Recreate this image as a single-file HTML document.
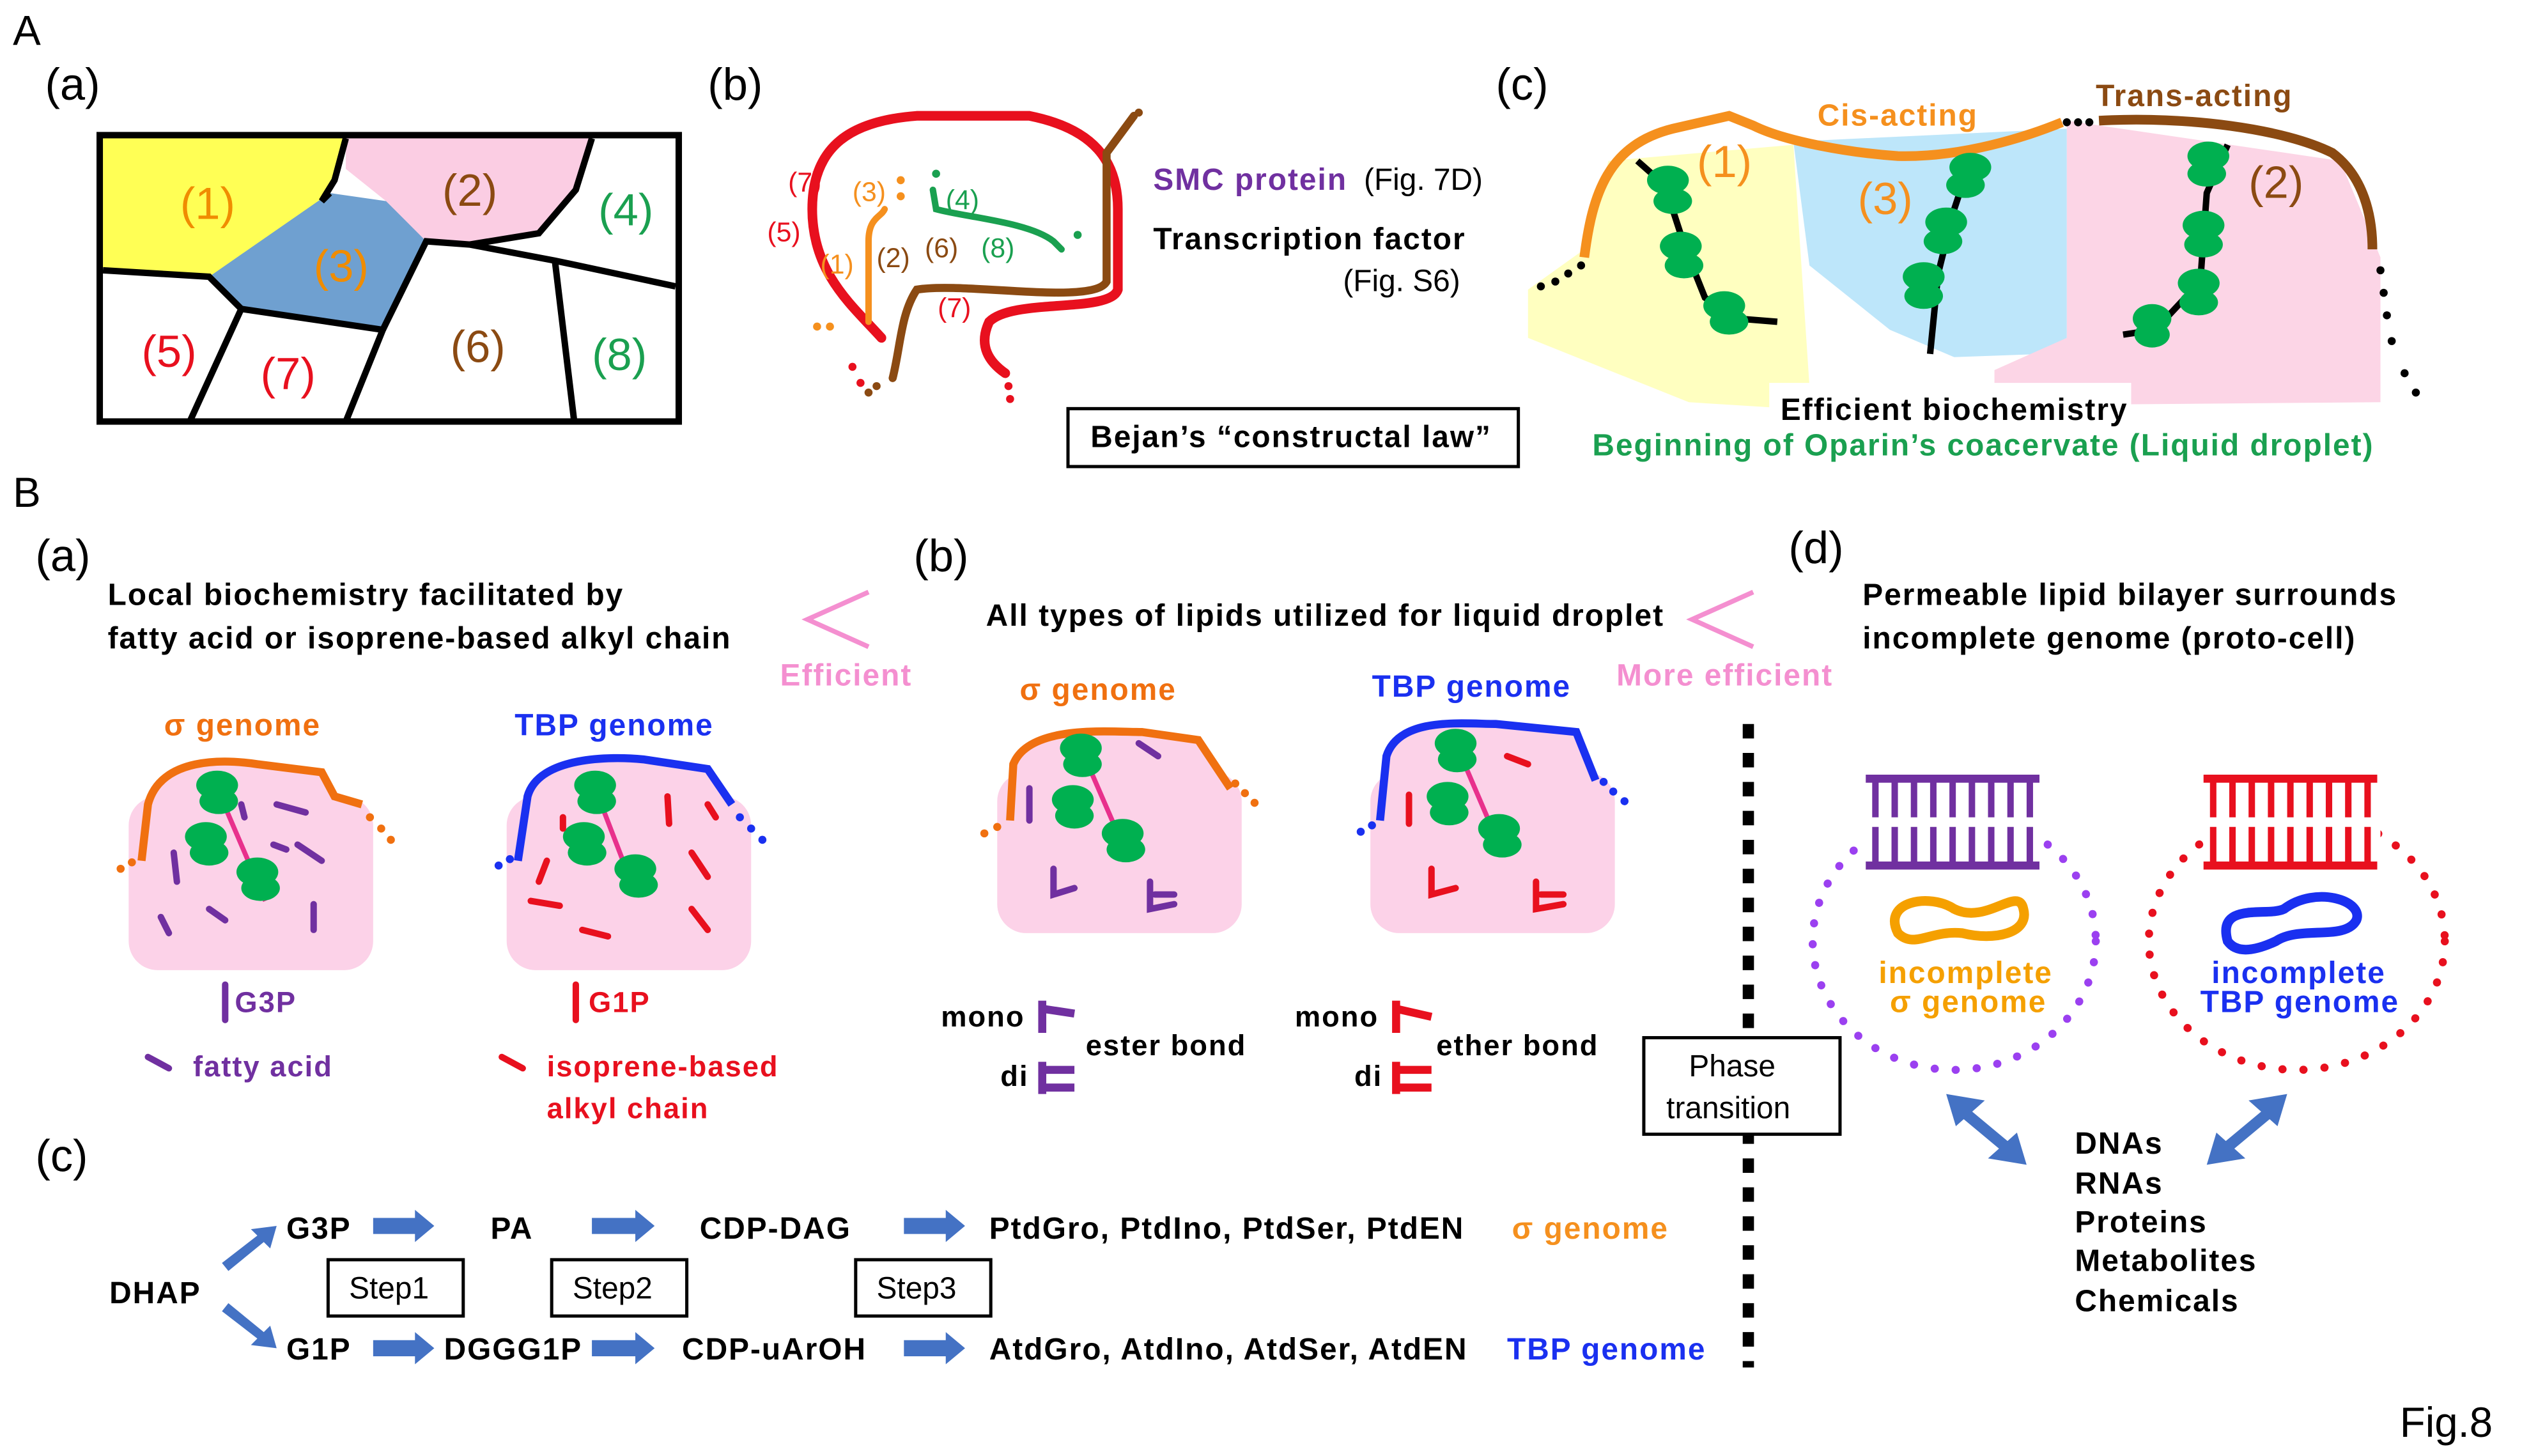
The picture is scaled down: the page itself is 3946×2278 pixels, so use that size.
<!DOCTYPE html>
<html><head><meta charset="utf-8"><style>
html,body{margin:0;padding:0;background:#fff}
svg{display:block}
text{font-family:"Liberation Sans","Noto Sans CJK JP",sans-serif;font-weight:bold;letter-spacing:0.8px}
.n{font-weight:normal;letter-spacing:0}
</style></head><body>
<svg width="3946" height="2278" viewBox="0 0 1568 905" preserveAspectRatio="none" xmlns="http://www.w3.org/2000/svg">
<rect width="1568" height="905" fill="#fff"/>
<!-- A -->
<text x="8" y="28" font-size="26" class="n">A</text>
<text x="28" y="62" font-size="28" class="n">(a)</text>
<polygon points="64,86 215,86 208,112 200,125 130,172 64,166" fill="#ffff55"/>
<polygon points="215,86 368,86 358,118 335,145 292,152 262,148 240,125 215,105" fill="#fbcde3"/>
<polygon points="130,172 205,120 240,125 265,150 238,205 150,192" fill="#6fa0d0"/>
<g stroke="#000" stroke-width="4" fill="none">
<polyline points="64,168 130,172 150,192 118,262"/>
<polyline points="150,192 238,205 215,262"/>
<polyline points="238,205 265,150 292,152 345,162 420,178"/>
<polyline points="345,162 357,262"/>
<polyline points="368,86 358,118 335,145 292,152"/>
<polyline points="215,86 208,112 200,125 205,120"/>
</g>
<rect x="62" y="84" width="360" height="178" fill="none" stroke="#000" stroke-width="4"/>
<g font-size="28" class="n">
<text class="n" x="112" y="136" fill="#f08c00">(1)</text>
<text class="n" x="275" y="128" fill="#8b4a12">(2)</text>
<text class="n" x="195" y="175" fill="#f08c00">(3)</text>
<text class="n" x="372" y="140" fill="#1aa050">(4)</text>
<text class="n" x="88" y="228" fill="#e8101e">(5)</text>
<text class="n" x="162" y="242" fill="#e8101e">(7)</text>
<text class="n" x="280" y="225" fill="#8b4a12">(6)</text>
<text class="n" x="368" y="230" fill="#1aa050">(8)</text>
</g>
<text x="440" y="62" font-size="28" class="n">(b)</text>
<g fill="none" stroke-linecap="round">
<path d="M548,210 C530,190 505,170 505,130 C505,90 530,75 570,72 L640,72 C680,80 695,100 695,130 L695,180 C690,195 630,185 615,200 C608,215 615,225 625,232" stroke="#e8101e" stroke-width="6"/>
<path d="M705,72 L688,95 L688,175 C680,190 600,175 570,180 C560,195 560,215 555,235" stroke="#8b4a12" stroke-width="5"/>
<path d="M540,200 L540,150 C540,135 548,135 550,130" stroke="#f5901e" stroke-width="4"/>
<path d="M580,118 L582,130 C600,135 640,138 655,150 L660,155" stroke="#1aa050" stroke-width="4"/>
</g>
<g fill="#e8101e"><circle cx="530" cy="228" r="2.5"/><circle cx="535" cy="238" r="2.5"/><circle cx="627" cy="240" r="2.5"/><circle cx="628" cy="248" r="2.5"/></g>
<g fill="#8b4a12"><circle cx="545" cy="240" r="2.5"/><circle cx="540" cy="244" r="2.5"/><circle cx="708" cy="70" r="2.5"/></g>
<g fill="#f5901e"><circle cx="508" cy="203" r="2.5"/><circle cx="516" cy="203" r="2.5"/><circle cx="560" cy="112" r="2.5"/><circle cx="560" cy="122" r="2.5"/></g>
<g fill="#1aa050"><circle cx="582" cy="108" r="2.5"/><circle cx="670" cy="146" r="2.5"/></g>
<g font-size="17">
<text class="n" x="490" y="119" fill="#e8101e">(7)</text><text class="n" x="530" y="125" fill="#f5901e">(3)</text><text class="n" x="588" y="130" fill="#1aa050">(4)</text>
<text class="n" x="477" y="150" fill="#e8101e">(5)</text><text class="n" x="510" y="170" fill="#f5901e">(1)</text><text class="n" x="545" y="166" fill="#8b4a12">(2)</text>
<text class="n" x="575" y="160" fill="#8b4a12">(6)</text><text class="n" x="610" y="160" fill="#1aa050">(8)</text><text class="n" x="583" y="197" fill="#e8101e">(7)</text>
</g>
<text x="717" y="118" font-size="19" fill="#7030a0">SMC protein</text><text x="848" y="118" font-size="19" class="n">(Fig. 7D)</text>
<text x="717" y="155" font-size="19">Transcription factor</text>
<text x="835" y="181" font-size="19" class="n">(Fig. S6)</text>
<rect x="664" y="254" width="280" height="36" fill="#fff" stroke="#000" stroke-width="2"/>
<text x="678" y="278" font-size="19">Bejan’s “constructal law”</text>
<text x="930" y="62" font-size="28" class="n">(c)</text>
<polygon points="950,180 985,155 1000,100 1115,90 1125,240 1240,240 1240,255 1130,255 1050,250 1000,230 950,210" fill="#ffffc0"/>
<polygon points="1115,88 1285,80 1285,210 1270,220 1215,222 1175,205 1125,165" fill="#bde6fa"/>
<polygon points="1285,75 1455,100 1480,160 1480,250 1240,252 1240,230 1285,210" fill="#fcd5e6"/>
<path d="M985,160 C990,120 1000,90 1040,80 L1075,72 L1090,78 C1110,88 1150,95 1180,97 C1220,98 1260,85 1282,76" fill="none" stroke="#f5901e" stroke-width="6"/>
<path d="M1305,75 C1360,72 1420,80 1450,95 C1470,110 1475,135 1475,155" fill="none" stroke="#8b4a12" stroke-width="6"/>
<g fill="#000"><circle cx="958" cy="178" r="2.5"/><circle cx="967" cy="175" r="2.5"/><circle cx="975" cy="170" r="2.5"/><circle cx="983" cy="165" r="2.5"/><circle cx="1285" cy="76" r="2.5"/><circle cx="1292" cy="76" r="2.5"/><circle cx="1299" cy="76" r="2.5"/>
<circle cx="1480" cy="168" r="2.5"/><circle cx="1482" cy="182" r="2.5"/><circle cx="1484" cy="196" r="2.5"/><circle cx="1487" cy="212" r="2.5"/><circle cx="1495" cy="232" r="2.5"/><circle cx="1502" cy="244" r="2.5"/></g>
<g fill="none" stroke="#000" stroke-width="4"><path d="M1018,100 L1035,115 L1048,155 L1060,185 L1080,198 L1105,200"/><path d="M1225,100 L1215,130 L1205,170 L1200,220"/><path d="M1385,90 L1372,120 L1368,175 L1340,205 L1320,208"/></g>
<g fill="#00b050">
<ellipse cx="1037" cy="112" rx="13" ry="9"/><ellipse cx="1040" cy="125" rx="12" ry="8"/><ellipse cx="1045" cy="153" rx="13" ry="9"/><ellipse cx="1047" cy="165" rx="12" ry="8"/><ellipse cx="1072" cy="190" rx="13" ry="9"/><ellipse cx="1075" cy="200" rx="12" ry="8"/>
<ellipse cx="1225" cy="104" rx="13" ry="9"/><ellipse cx="1222" cy="115" rx="12" ry="8"/><ellipse cx="1210" cy="138" rx="13" ry="9"/><ellipse cx="1208" cy="150" rx="12" ry="8"/><ellipse cx="1196" cy="172" rx="13" ry="9"/><ellipse cx="1196" cy="184" rx="12" ry="8"/>
<ellipse cx="1373" cy="97" rx="13" ry="9"/><ellipse cx="1372" cy="108" rx="12" ry="8"/><ellipse cx="1370" cy="140" rx="13" ry="9"/><ellipse cx="1370" cy="152" rx="12" ry="8"/><ellipse cx="1367" cy="176" rx="13" ry="9"/><ellipse cx="1367" cy="188" rx="12" ry="8"/><ellipse cx="1338" cy="198" rx="12" ry="9"/><ellipse cx="1338" cy="208" rx="11" ry="8"/></g>
<g font-size="28"><text class="n" x="1055" y="110" fill="#f5901e">(1)</text><text class="n" x="1155" y="133" fill="#f5901e">(3)</text><text class="n" x="1398" y="123" fill="#8b4a12">(2)</text></g>
<text x="1130" y="78" font-size="19" fill="#f5901e">Cis-acting</text>
<text x="1303" y="66" font-size="19" fill="#8b4a12">Trans-acting</text>
<rect x="1100" y="238" width="225" height="28" fill="#fff"/>
<text x="1107" y="261" font-size="19">Efficient biochemistry</text>
<text x="990" y="283" font-size="19" fill="#1aa050">Beginning of Oparin’s coacervate (Liquid droplet)</text>
<!-- B -->
<text x="8" y="315" font-size="26" class="n">B</text>
<text x="22" y="355" font-size="28" class="n">(a)</text>
<text x="67" y="376" font-size="19">Local biochemistry facilitated by</text>
<text x="67" y="403" font-size="19">fatty acid or isoprene-based alkyl chain</text>
<polyline points="540,368 502,385 540,402" fill="none" stroke="#f48fd0" stroke-width="3"/>
<text x="485" y="426" font-size="19" fill="#f48fd0">Efficient</text>
<text x="568" y="355" font-size="28" class="n">(b)</text>
<text x="613" y="389" font-size="19">All types of lipids utilized for liquid droplet</text>
<polyline points="1090,368 1052,385 1090,402" fill="none" stroke="#f48fd0" stroke-width="3"/>
<text x="1005" y="426" font-size="19" fill="#f48fd0">More efficient</text>
<text x="1112" y="350" font-size="28" class="n">(d)</text>
<text x="1158" y="376" font-size="19">Permeable lipid bilayer surrounds</text>
<text x="1158" y="403" font-size="19">incomplete genome (proto-cell)</text>
<!-- droplets -->
<rect x="80" y="495" width="152" height="108" rx="18" fill="#fcd2e8"/>
<path d="M88,535 L92,500 C100,470 140,472 160,475 L200,480 L208,495 L225,500" fill="#fcd2e8" stroke="#f07010" stroke-width="5"/>
<rect x="315" y="495" width="152" height="108" rx="18" fill="#fcd2e8"/>
<path d="M322,535 L328,495 C335,470 380,470 400,472 L440,478 L455,500" fill="#fcd2e8" stroke="#1a30f0" stroke-width="5"/>
<rect x="620" y="480" width="152" height="100" rx="18" fill="#fcd2e8"/>
<path d="M628,510 L630,475 C640,450 690,455 710,455 L745,460 L765,490" fill="#fcd2e8" stroke="#f07010" stroke-width="5"/>
<rect x="852" y="480" width="152" height="100" rx="18" fill="#fcd2e8"/>
<path d="M858,510 L862,470 C870,445 910,450 930,450 L980,455 L992,485" fill="#fcd2e8" stroke="#1a30f0" stroke-width="5"/>
<g fill="#f07010"><circle cx="75" cy="540" r="2.5"/><circle cx="82" cy="536" r="2.5"/><circle cx="230" cy="508" r="2.5"/><circle cx="237" cy="515" r="2.5"/><circle cx="243" cy="522" r="2.5"/><circle cx="612" cy="518" r="2.5"/><circle cx="620" cy="514" r="2.5"/><circle cx="768" cy="487" r="2.5"/><circle cx="774" cy="493" r="2.5"/><circle cx="780" cy="499" r="2.5"/></g>
<g fill="#1a30f0"><circle cx="310" cy="538" r="2.5"/><circle cx="317" cy="534" r="2.5"/><circle cx="460" cy="508" r="2.5"/><circle cx="467" cy="515" r="2.5"/><circle cx="474" cy="522" r="2.5"/><circle cx="846" cy="517" r="2.5"/><circle cx="853" cy="513" r="2.5"/><circle cx="997" cy="486" r="2.5"/><circle cx="1003" cy="492" r="2.5"/><circle cx="1010" cy="498" r="2.5"/></g>
<g stroke="#e8308c" stroke-width="3"><line x1="135" y1="490" x2="165" y2="560"/><line x1="370" y1="490" x2="395" y2="555"/><line x1="672" y1="465" x2="698" y2="525"/><line x1="905" y1="462" x2="932" y2="525"/></g>
<g fill="#00b050">
<ellipse cx="135" cy="488" rx="13" ry="9"/><ellipse cx="136" cy="498" rx="12" ry="8"/><ellipse cx="128" cy="520" rx="13" ry="9"/><ellipse cx="130" cy="530" rx="12" ry="8"/><ellipse cx="160" cy="542" rx="13" ry="9"/><ellipse cx="162" cy="552" rx="12" ry="8"/>
<ellipse cx="370" cy="488" rx="13" ry="9"/><ellipse cx="371" cy="498" rx="12" ry="8"/><ellipse cx="363" cy="520" rx="13" ry="9"/><ellipse cx="365" cy="530" rx="12" ry="8"/><ellipse cx="395" cy="540" rx="13" ry="9"/><ellipse cx="397" cy="550" rx="12" ry="8"/>
<ellipse cx="672" cy="465" rx="13" ry="9"/><ellipse cx="673" cy="475" rx="12" ry="8"/><ellipse cx="667" cy="497" rx="13" ry="9"/><ellipse cx="668" cy="507" rx="12" ry="8"/><ellipse cx="698" cy="518" rx="13" ry="9"/><ellipse cx="700" cy="528" rx="12" ry="8"/>
<ellipse cx="905" cy="462" rx="13" ry="9"/><ellipse cx="906" cy="472" rx="12" ry="8"/><ellipse cx="900" cy="495" rx="13" ry="9"/><ellipse cx="901" cy="505" rx="12" ry="8"/><ellipse cx="932" cy="515" rx="13" ry="9"/><ellipse cx="934" cy="525" rx="12" ry="8"/></g>
<g stroke="#7030a0" stroke-width="4" stroke-linecap="round" fill="none">
<path d="M172,500 L190,505"/><path d="M185,525 L200,535"/><path d="M108,530 L110,548"/><path d="M130,565 L140,572"/><path d="M100,570 L105,580"/><path d="M195,562 L195,578"/><path d="M170,525 L178,528"/><path d="M150,500 L152,508"/>
<path d="M708,462 L720,470"/><path d="M640,490 L640,510"/><path d="M655,540 L655,556 L668,552"/><path d="M715,548 L715,565 L730,562 M718,556 L730,556"/>
<path d="M140,612 L140,634"/><path d="M92,657 L105,664"/></g>
<g stroke="#e8101e" stroke-width="4" stroke-linecap="round" fill="none">
<path d="M415,495 L416,512"/><path d="M430,530 L440,545"/><path d="M340,535 L335,548"/><path d="M330,560 L348,563"/><path d="M362,578 L378,582"/><path d="M430,565 L440,578"/><path d="M350,508 L350,515"/><path d="M440,500 L445,508"/>
<path d="M937,470 L950,475"/><path d="M876,494 L876,512"/><path d="M890,540 L890,556 L905,552"/><path d="M955,548 L955,565 L972,562 M958,556 L972,556"/>
<path d="M358,612 L358,634"/><path d="M312,657 L325,664"/></g>
<text x="102" y="457" font-size="19" fill="#f07010">σ genome</text>
<text x="320" y="457" font-size="19" fill="#1a30f0">TBP genome</text>
<text x="634" y="435" font-size="19" fill="#f07010">σ genome</text>
<text x="853" y="433" font-size="19" fill="#1a30f0">TBP genome</text>
<text x="146" y="629" font-size="18" fill="#7030a0">G3P</text>
<text x="366" y="629" font-size="18" fill="#e8101e">G1P</text>
<text x="120" y="669" font-size="18" fill="#7030a0">fatty acid</text>
<text x="340" y="669" font-size="18" fill="#e8101e">isoprene-based</text>
<text x="340" y="695" font-size="18" fill="#e8101e">alkyl chain</text>
<text x="585" y="638" font-size="18">mono</text><text x="622" y="675" font-size="18">di</text>
<text x="675" y="656" font-size="18">ester bond</text>
<g stroke="#7030a0" stroke-width="5" fill="none"><path d="M648,622 L648,642 M648,627 L668,630"/><path d="M648,660 L648,680 M648,665 L668,665 M648,676 L668,676"/></g>
<text x="805" y="638" font-size="18">mono</text><text x="842" y="675" font-size="18">di</text>
<text x="893" y="656" font-size="18">ether bond</text>
<g stroke="#e8101e" stroke-width="5" fill="none"><path d="M868,622 L868,642 M868,627 L890,632"/><path d="M868,660 L868,680 M868,665 L890,665 M868,676 L890,676"/></g>
<line x1="1087" y1="450" x2="1087" y2="850" stroke="#000" stroke-width="7" stroke-dasharray="9,9"/>
<rect x="1022" y="645" width="122" height="60" fill="#fff" stroke="#000" stroke-width="2"/>
<text x="1050" y="669" font-size="19" class="n">Phase</text>
<text x="1036" y="695" font-size="19" class="n">transition</text>
<ellipse cx="1215" cy="585" rx="88" ry="80" fill="none" stroke="#9b40f0" stroke-width="5" stroke-dasharray="0.1,13" stroke-linecap="round"/>
<ellipse cx="1428" cy="585" rx="92" ry="80" fill="none" stroke="#e8101e" stroke-width="5" stroke-dasharray="0.1,13" stroke-linecap="round"/>
<rect x="1160" y="478" width="110" height="68" fill="#fff"/>
<rect x="1370" y="478" width="110" height="68" fill="#fff"/>
<g stroke="#7030a0" stroke-width="5">
<line x1="1160" y1="484" x2="1268" y2="484"/><line x1="1160" y1="538" x2="1268" y2="538"/>
<path d="M1166,484 V508 M1178,484 V508 M1190,484 V508 M1202,484 V508 M1214,484 V508 M1226,484 V508 M1238,484 V508 M1250,484 V508 M1262,484 V508 M1166,514 V538 M1178,514 V538 M1190,514 V538 M1202,514 V538 M1214,514 V538 M1226,514 V538 M1238,514 V538 M1250,514 V538 M1262,514 V538" stroke-width="4"/></g>
<g stroke="#e8101e" stroke-width="5">
<line x1="1370" y1="484" x2="1478" y2="484"/><line x1="1370" y1="538" x2="1478" y2="538"/>
<path d="M1376,484 V508 M1388,484 V508 M1400,484 V508 M1412,484 V508 M1424,484 V508 M1436,484 V508 M1448,484 V508 M1460,484 V508 M1472,484 V508 M1376,514 V538 M1388,514 V538 M1400,514 V538 M1412,514 V538 M1424,514 V538 M1436,514 V538 M1448,514 V538 M1460,514 V538 M1472,514 V538" stroke-width="4"/></g>
<path d="M1180,580 C1170,560 1200,555 1215,565 C1235,575 1255,550 1258,565 C1262,580 1240,585 1220,580 C1200,578 1190,590 1180,580 Z" fill="none" stroke="#f5a000" stroke-width="6"/>
<path d="M1385,585 C1378,560 1410,570 1420,565 C1440,550 1470,560 1465,572 C1458,585 1430,575 1415,585 C1400,592 1390,592 1385,585 Z" fill="none" stroke="#1a30f0" stroke-width="6"/>
<text x="1168" y="611" font-size="19" fill="#f5a000">incomplete</text>
<text x="1175" y="629" font-size="19" fill="#f5a000">σ genome</text>
<text x="1375" y="611" font-size="19" fill="#1a30f0">incomplete</text>
<text x="1368" y="629" font-size="19" fill="#1a30f0">TBP genome</text>
<g stroke="#4472c4" stroke-width="7"><line x1="1222" y1="692" x2="1246" y2="712"/><line x1="1410" y1="692" x2="1386" y2="712"/></g>
<g fill="#4472c4">
<polygon points="1210,680 1234,684 1216,700"/><polygon points="1260,724 1236,720 1254,704"/>
<polygon points="1422,680 1398,684 1416,700"/><polygon points="1372,724 1396,720 1378,704"/>
</g>
<g font-size="19"><text x="1290" y="717">DNAs</text><text x="1290" y="742">RNAs</text><text x="1290" y="766">Proteins</text><text x="1290" y="790">Metabolites</text><text x="1290" y="815">Chemicals</text></g>
<text x="22" y="728" font-size="28" class="n">(c)</text>
<g font-size="19">
<text x="68" y="810">DHAP</text>
<text x="178" y="770">G3P</text><text x="305" y="770">PA</text><text x="435" y="770">CDP-DAG</text>
<text x="615" y="770">PtdGro, PtdIno, PtdSer, PtdEN</text>
<text x="178" y="845">G1P</text><text x="276" y="845">DGGG1P</text><text x="424" y="845">CDP-uArOH</text>
<text x="615" y="845">AtdGro, AtdIno, AtdSer, AtdEN</text>
</g>
<text x="940" y="770" font-size="19" fill="#f5901e">σ genome</text>
<text x="937" y="845" font-size="19" fill="#1a30f0">TBP genome</text>
<g fill="#4472c4">
<polygon points="138,785 160,768 156,764 172,762 168,776 164,772 142,790"/>
<polygon points="138,815 160,832 156,836 172,838 168,824 164,828 142,810"/>
<polygon points="232,757 258,757 258,752 270,762 258,772 258,767 232,767"/>
<polygon points="368,757 395,757 395,752 407,762 395,772 395,767 368,767"/>
<polygon points="562,757 588,757 588,752 600,762 588,772 588,767 562,767"/>
<polygon points="232,833 258,833 258,828 270,838 258,848 258,843 232,843"/>
<polygon points="368,833 395,833 395,828 407,838 395,848 395,843 368,843"/>
<polygon points="562,833 588,833 588,828 600,838 588,848 588,843 562,843"/>
</g>
<g fill="#fff" stroke="#000" stroke-width="2"><rect x="204" y="783" width="84" height="35"/><rect x="343" y="783" width="84" height="35"/><rect x="532" y="783" width="84" height="35"/></g>
<g font-size="19"><text class="n" x="217" y="807">Step1</text><text class="n" x="356" y="807">Step2</text><text class="n" x="545" y="807">Step3</text></g>
<text x="1492" y="893" font-size="26" class="n">Fig.8</text>
</svg>
</body></html>
